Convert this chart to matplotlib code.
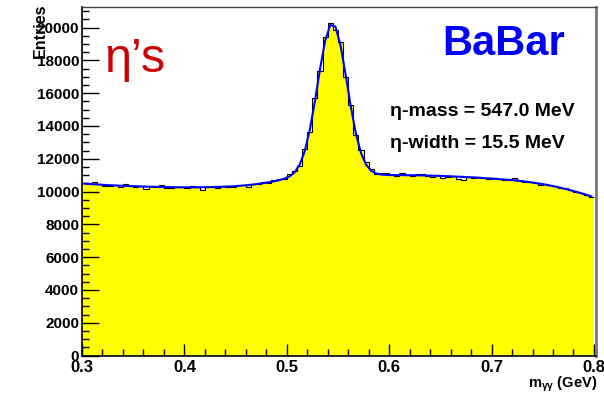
import matplotlib
matplotlib.use("Agg")
import matplotlib.pyplot as plt
import numpy as np
from matplotlib.ticker import MultipleLocator

# ---- data ----
bin_lo, bin_hi, n_bins = 0.3, 0.8, 100

counts = [10540, 10440, 10590, 10460, 10320, 10355, 10380, 10295, 10430, 10350,
          10280, 10340, 10180, 10340, 10270, 10415, 10220, 10195, 10290, 10265,
          10225, 10315, 10275, 10120, 10245, 10270, 10220, 10330, 10295, 10290,
          10410, 10405, 10285, 10440, 10450, 10565, 10525, 10684, 10783, 10747,
          11060, 11277, 11546, 12605, 13639, 15711, 17325, 19445, 20259, 19873,
          19111, 16969, 15303, 13428, 12528, 11784, 11363, 11056, 11123, 11100,
          11040, 10970, 11110, 11015, 10970, 11065, 11040, 10965, 10905, 10985,
          10825, 10905, 10930, 10755, 10720, 10895, 10820, 10900, 10830, 10770,
          10830, 10735, 10690, 10775, 10800, 10675, 10560, 10610, 10545, 10415,
          10480, 10410, 10325, 10205, 10220, 10090, 9945, 9935, 9800, 9670]

fit_vals = [10480, 10460, 10440, 10420, 10400, 10385, 10370, 10355, 10340, 10330,
            10320, 10310, 10300, 10290, 10280, 10275, 10270, 10265, 10260, 10255,
            10255, 10255, 10255, 10260, 10265, 10270, 10280, 10290, 10305, 10320,
            10340, 10365, 10395, 10430, 10470, 10515, 10565, 10624, 10693, 10777,
            10910, 11157, 11626, 12455, 13759, 15511, 17475, 19195, 20159, 20053,
            18911, 17119, 15183, 13528, 12348, 11634, 11263, 11096, 11033, 11010,
            11000, 11000, 11000, 10995, 10990, 10985, 10980, 10975, 10965, 10955,
            10945, 10935, 10920, 10905, 10890, 10875, 10860, 10840, 10820, 10800,
            10780, 10755, 10730, 10705, 10680, 10645, 10610, 10570, 10525, 10475,
            10420, 10360, 10295, 10225, 10150, 10070, 9985, 9895, 9800, 9700]

x_ticks = [0.3, 0.4, 0.5, 0.6, 0.7, 0.8]
y_ticks = [0, 2000, 4000, 6000, 8000, 10000, 12000, 14000, 16000, 18000, 20000]

edges = np.linspace(bin_lo, bin_hi, n_bins + 1)
centers = 0.5 * (edges[:-1] + edges[1:])

plt.rcParams['font.family'] = ['Liberation Sans', 'DejaVu Sans']
plt.rcParams['mathtext.fontset'] = 'custom'
plt.rcParams['mathtext.rm'] = 'Liberation Sans:bold'
plt.rcParams['mathtext.it'] = 'Liberation Sans:bold'
plt.rcParams['mathtext.bf'] = 'Liberation Sans:bold'

fig = plt.figure(figsize=(6.04, 3.93), dpi=100)
ax = fig.add_axes([82/604, 37.5/393, (596-82)/604, (386.3-37.5)/393])

ax.stairs(counts, edges, fill=True, color='#ffff00', baseline=0)
ax.stairs(counts, edges, color='black', lw=0.8, baseline=None)
ax.plot(centers, fit_vals, color='#0000ff', lw=1.5)

ax.set_xlim(0.3, 0.802)
ax.set_ylim(0, 21270)
ax.set_xticks(x_ticks)
ax.set_xticklabels([f"{t:.1f}" for t in x_ticks])
ax.set_yticks(y_ticks)
ax.set_yticklabels([str(t) for t in y_ticks])
ax.xaxis.set_minor_locator(MultipleLocator(0.02))
ax.yaxis.set_minor_locator(MultipleLocator(500))
ax.tick_params(axis='both', which='major', direction='in', length=9, width=1,
               top=False, right=False, pad=2)
ax.tick_params(axis='x', which='major', labelsize=12, pad=3)
ax.tick_params(axis='y', which='major', labelsize=11, length=12, pad=2)
ax.tick_params(axis='both', which='minor', direction='in', length=5, width=1,
               top=False, right=False)
for lab in ax.get_xticklabels() + ax.get_yticklabels():
    lab.set_fontweight('bold')

for s in ['left', 'bottom']:
    ax.spines[s].set_linewidth(1.2)
    ax.spines[s].set_color('black')
ax.spines['top'].set_color('#444444')
ax.spines['top'].set_linewidth(1.0)
ax.spines['right'].set_color('#777777')
ax.spines['right'].set_linewidth(2.0)

fig.text(40/604, 1 - 3/393, 'Entries', rotation=90, ha='center', va='top',
         fontsize=11.5, fontweight='bold')
fig.text(597/604, 1 - 388/393, r'm$_{\gamma\gamma}$ (GeV)', ha='right', va='baseline',
         fontsize=10.5, fontweight='bold')

fig.text(104/604, 1 - 72/393, 'η’s', color='#cc0000', fontsize=35,
         ha='left', va='baseline')
fig.text(442/604, 1 - 55/393, 'BaBar', color='#0000ff', fontsize=30,
         fontweight='bold', ha='left', va='baseline')
fig.text(390/604, 1 - 116/393, 'η-mass = 547.0 MeV', fontsize=14,
         fontweight='bold', ha='left', va='baseline')
fig.text(390/604, 1 - 148/393, 'η-width = 15.5 MeV', fontsize=14,
         fontweight='bold', ha='left', va='baseline')

fig.savefig('out.png', dpi=100)
